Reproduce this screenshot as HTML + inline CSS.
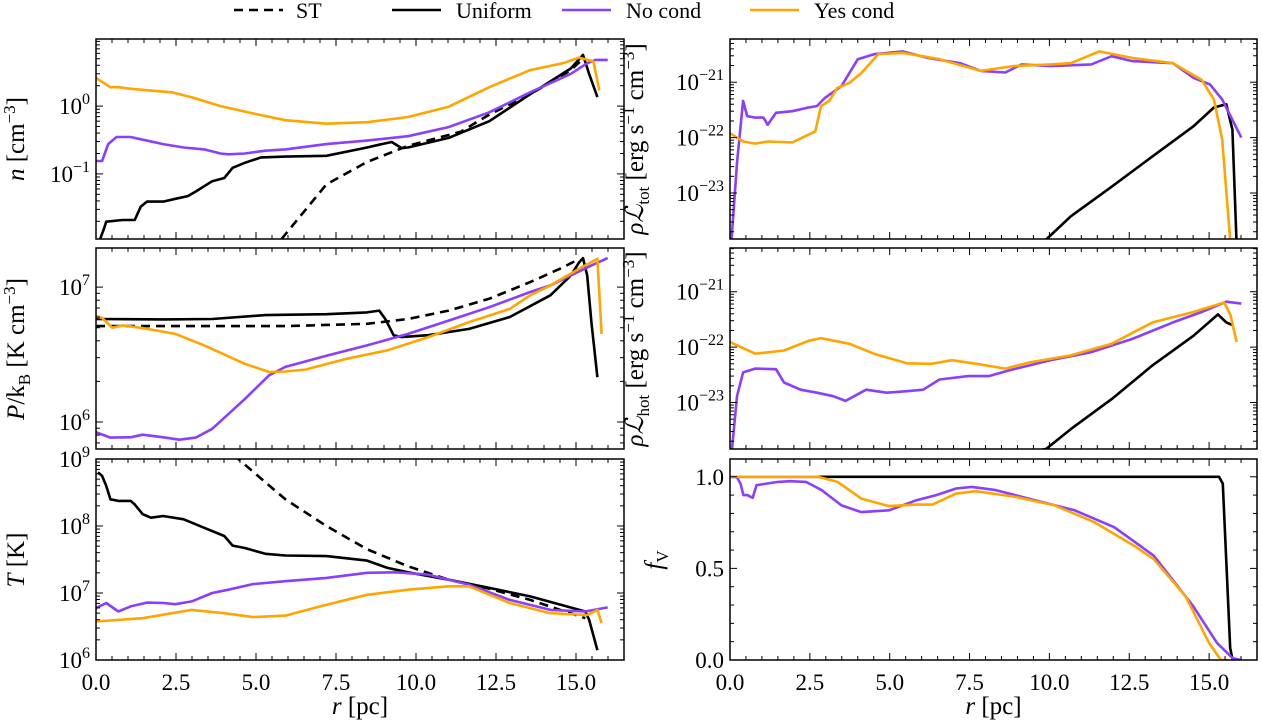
<!DOCTYPE html>
<html><head><meta charset="utf-8">
<style>
html,body{margin:0;padding:0;background:#fff;}
svg{display:block;font-family:"Liberation Serif","DejaVu Serif",serif;}
</style></head>
<body>
<svg id="fig" width="1262" height="722" viewBox="0 0 1262 722" xmlns="http://www.w3.org/2000/svg" font-family="Liberation Serif, DejaVu Serif, serif">
  <g font-size="22" font-family="Liberation Serif, DejaVu Serif, serif">
    <line x1="234" y1="10" x2="283" y2="10" stroke="#000" stroke-width="2.6" stroke-dasharray="9,6"/>
    <text x="296" y="18">ST</text>
    <line x1="392" y1="10" x2="441" y2="10" stroke="#000" stroke-width="2.6"/>
    <text x="456" y="18">Uniform</text>
    <line x1="562" y1="10" x2="611" y2="10" stroke="#8a3ffc" stroke-width="2.6"/>
    <text x="626" y="18">No cond</text>
    <line x1="750" y1="10" x2="799" y2="10" stroke="#ffa500" stroke-width="2.6"/>
    <text x="814" y="18">Yes cond</text>
  </g>
</svg>
<script>
// ---- data (r in pc) ----
const xTickLabels = ["0.0","2.5","5.0","7.5","10.0","12.5","15.0"];
const xTickValues = [0,2.5,5,7.5,10,12.5,15];

// n panel
const nST_r = [5.8,7.2,8.47,9.75,11.4,12.29,13.57,14.84,15.22];
const nST_v = [0.011,0.07,0.15,0.26,0.42,0.75,1.5,3.4,5.0];
const nUni_r = [0.13,0.25,0.32,0.83,1.21,1.4,1.59,2.1,2.48,2.87,3.12,3.63,4.01,4.27,4.65,5.16,5.92,7.2,8.47,8.85,9.24,9.55,9.75,11.02,12.29,13.57,14.84,15.22,15.41,15.67];
const nUni_v = [0.011,0.0156,0.0197,0.0209,0.0209,0.033,0.039,0.039,0.043,0.047,0.055,0.078,0.087,0.123,0.146,0.175,0.18,0.185,0.245,0.27,0.296,0.24,0.245,0.34,0.6,1.5,3.6,5.7,3.0,1.36];
const nNo_r = [0,0.19,0.38,0.64,1.08,1.46,2.1,2.74,3.38,3.89,4.14,4.65,5.29,5.92,7.2,8.47,9.75,11.02,12.29,13.57,14.84,15.35,15.61,15.99];
const nNo_v = [0.155,0.155,0.275,0.35,0.35,0.32,0.275,0.245,0.23,0.2,0.195,0.2,0.22,0.23,0.275,0.31,0.36,0.49,0.81,1.6,3.0,4.3,4.8,4.8];
const nYes_r = [0,0.45,0.7,1.08,2.36,2.99,3.89,4.9,5.92,7.2,8.47,9.75,11.02,12.29,13.57,14.59,15.1,15.54,15.73];
const nYes_v = [2.6,1.9,1.9,1.8,1.6,1.35,1.0,0.78,0.62,0.55,0.58,0.69,0.98,1.9,3.4,4.3,5.2,4.6,1.7];

// P panel
const pST_r = [0,5.92,8.47,9.75,11.02,12.29,13.57,14.59,15.1];
const pST_v = [5.14e6,5.14e6,5.35e6,5.8e6,6.7e6,8.2e6,1.09e7,1.4e7,1.62e7];
const pUni_r = [0,2.1,3.63,5.29,7.2,8.47,8.85,9.04,9.3,9.55,10.38,11.66,12.93,14.2,14.84,15.1,15.22,15.35,15.48,15.67];
const pUni_v = [5.8e6,5.76e6,5.8e6,6.2e6,6.3e6,6.5e6,6.7e6,5.8e6,4.4e6,4.26e6,4.4e6,4.9e6,6.0e6,8.7e6,1.22e7,1.53e7,1.64e7,1.22e7,5.5e6,2.15e6];
const pNo_r = [0,0.45,1.08,1.46,2.1,2.61,3.12,3.63,4.65,5.41,5.92,7.2,8.47,9.75,11.02,12.29,13.57,14.2,14.84,15.48,15.99];
const pNo_v = [8.4e5,7.66e5,7.7e5,8.05e5,7.7e5,7.4e5,7.66e5,8.9e5,1.48e6,2.22e6,2.56e6,3.1e6,3.7e6,4.5e6,5.65e6,7.1e6,9.2e6,1.03e7,1.22e7,1.45e7,1.64e7];
const pYes_r = [0,0.19,0.51,0.83,1.46,2.48,3.38,4.65,5.41,5.92,6.56,7.83,9.11,10.38,11.66,12.93,13.57,14.2,15.1,15.67,15.8];
const pYes_v = [6.1e6,5.9e6,5.0e6,5.2e6,4.97e6,4.5e6,3.7e6,2.7e6,2.35e6,2.37e6,2.45e6,2.94e6,3.4e6,4.26e6,5.5e6,6.9e6,8.7e6,1.03e7,1.37e7,1.62e7,4.5e6];

// T panel
const tST_r = [4.3,5.29,5.92,7.2,8.47,9.75,11.02,12.29,13.57,15.29];
const tST_v = [1.15e9,4.5e8,2.5e8,1e8,4.5e7,2.5e7,1.58e7,1.16e7,7.9e6,4.2e6];
const tUni_r = [0.06,0.19,0.32,0.45,0.7,1.08,1.21,1.46,1.72,2.1,2.74,3.38,4.01,4.27,4.65,5.29,5.92,7.2,8.47,9.11,9.75,11.02,12.29,13.57,15.29,15.41,15.67];
const tUni_v = [6.3e8,5.6e8,4.0e8,2.5e8,2.37e8,2.37e8,2.1e8,1.5e8,1.33e8,1.41e8,1.26e8,9.4e7,7.1e7,5.1e7,4.7e7,3.85e7,3.63e7,3.55e7,3.05e7,2.37e7,2.04e7,1.58e7,1.19e7,8.9e6,5.3e6,4.0e6,1.4e6];
const tNo_r = [0,0.32,0.7,1.08,1.59,2.1,2.48,2.99,3.63,4.14,4.9,5.92,7.2,8.47,9.36,10.38,11.66,12.93,14.2,15.29,15.99];
const tNo_v = [5.96e6,7.1e6,5.3e6,6.3e6,7.2e6,7.1e6,6.8e6,7.5e6,1e7,1.12e7,1.36e7,1.5e7,1.68e7,2e7,2.04e7,1.88e7,1.33e7,7.9e6,5.6e6,5.3e6,6.1e6];
const tYes_r = [0,1.46,2.99,4.01,4.9,5.92,7.2,8.47,9.75,11.02,11.66,12.93,14.2,15.35,15.67,15.8];
const tYes_v = [3.76e6,4.2e6,5.6e6,5e6,4.37e6,4.6e6,6.7e6,9.4e6,1.12e7,1.26e7,1.26e7,7.1e6,5e6,4.7e6,5.6e6,3.55e6];

// rho L_tot panel
const ltUni_r = [8.5,9.9,10.67,11.95,13.23,14.51,15.15,15.54,15.73,15.86];
const ltUni_v = [1.0e-24,1.45e-24,3.8e-24,1.3e-23,4.6e-23,1.6e-22,3.5e-22,4e-22,1.4e-22,1.2e-24];
const ltNo_r = [0.05,0.22,0.41,0.54,0.79,1.05,1.18,1.44,1.95,2.46,2.72,2.97,3.49,4.0,4.51,5.41,6.18,7.21,7.85,8.62,9.13,10.03,11.31,11.95,12.59,13.87,14.51,15.03,15.41,16.01];
const ltNo_v = [1.5e-24,3.5e-23,4.6e-22,2.45e-22,2.3e-22,2.3e-22,1.7e-22,2.8e-22,3.0e-22,3.5e-22,3.7e-22,5.2e-22,8.5e-22,2.6e-21,3.2e-21,3.6e-21,2.75e-21,2.2e-21,1.6e-21,1.5e-21,2.1e-21,1.95e-21,2.1e-21,2.95e-21,2.4e-21,2.2e-21,1.2e-21,9.1e-22,4.9e-22,1.0e-22];
const ltYes_r = [0,0.41,0.79,1.18,1.95,2.67,2.85,3.11,3.36,3.74,4.13,4.64,5.41,6.56,7.85,8.87,10.03,10.67,11.56,12.59,13.87,14.77,15.15,15.41,15.67];
const ltYes_v = [1.2e-22,8.5e-23,7.8e-23,8.5e-23,8.2e-23,1.3e-22,3.7e-22,4.6e-22,7.9e-22,9.7e-22,1.5e-21,3.2e-21,3.4e-21,2.6e-21,1.6e-21,1.95e-21,2.1e-21,2.2e-21,3.6e-21,2.75e-21,2.2e-21,1.1e-21,4.9e-22,9.2e-23,1.2e-24];

// rho L_hot panel
const lhUni_r = [8.5,9.9,10.67,11.95,13.23,14.51,15.28,15.54,15.73];
const lhUni_v = [1.0e-24,1.45e-24,3.3e-24,1.15e-23,4.7e-23,1.6e-22,3.9e-22,2.8e-22,2.5e-22];
const lhNo_r = [0.05,0.22,0.41,0.79,1.44,1.69,2.21,2.72,3.23,3.62,4.26,4.9,5.54,6.05,6.56,7.46,8.1,8.74,10.03,11.31,12.59,13.87,14.77,15.54,16.01];
const lhNo_v = [1.2e-24,1.3e-23,3.5e-23,4.1e-23,4e-23,2.3e-23,1.7e-23,1.5e-23,1.3e-23,1.07e-23,1.7e-23,1.5e-23,1.6e-23,1.7e-23,2.6e-23,3.0e-23,3.0e-23,3.8e-23,5.8e-23,8.1e-23,1.4e-22,2.8e-22,4.3e-22,6.6e-22,6.1e-22];
const lhYes_r = [0,0.79,1.69,2.46,2.85,3.74,4.51,5.54,6.31,6.95,7.72,8.62,9.38,10.67,11.95,13.23,14.51,15.47,15.67,15.86];
const lhYes_v = [1.23e-22,7.6e-23,8.7e-23,1.3e-22,1.45e-22,1.15e-22,7.6e-23,5.1e-23,5e-23,5.8e-23,5e-23,4.1e-23,5.3e-23,7.1e-23,1.15e-22,2.8e-22,4.3e-22,6.4e-22,3.8e-22,1.23e-22];

// f_V panel
const fUni_r = [0,15.31,15.43,15.66,15.74];
const fUni_v = [1.0,1.0,0.963,0.064,0.0];
const fNo_r = [0,0.21,0.33,0.42,0.54,0.71,0.83,1.14,1.51,1.88,2.38,2.87,3.49,4.11,4.98,5.84,6.46,7.08,7.57,8.32,9.55,10.79,12.03,13.27,14.5,15.25,15.74,15.99];
const fNo_v = [1.0,1.0,0.963,0.9,0.9,0.885,0.954,0.963,0.972,0.976,0.972,0.927,0.844,0.807,0.817,0.872,0.9,0.936,0.945,0.927,0.872,0.817,0.725,0.569,0.294,0.092,0.01,0.0];
const fYes_r = [0,2.75,3.37,4.11,4.98,5.84,6.34,7.08,7.7,8.94,10.17,11.41,12.65,13.27,14.26,15.0,15.37,15.62];
const fYes_v = [1,1,0.972,0.881,0.84,0.848,0.848,0.908,0.921,0.89,0.844,0.752,0.624,0.55,0.349,0.092,0.0,0.0];

// ---- drawing ----
const NS = "http://www.w3.org/2000/svg";
const svg = document.getElementById("fig");
const XMAX = 16.5;
const PURPLE = "#8a3ffc", ORANGE = "#ffa500";
function mk(tag, attrs, parent){ const e=document.createElementNS(NS,tag); for(const k in attrs) e.setAttribute(k,attrs[k]); (parent||svg).appendChild(e); return e; }

function makePanel(name, x0, x1, y0, y1, log, ymin, ymax){
  const g = mk("g",{});
  
  
  const sx = v => x0 + (v/XMAX)*(x1-x0);
  const sy = log ? (v => y1 - ((Math.log10(v)-ymin)/(ymax-ymin))*(y1-y0))
                 : (v => y1 - ((v-ymin)/(ymax-ymin))*(y1-y0));
  const cid = "clip-" + name;
  const cp = mk("clipPath",{id:cid},g);
  mk("rect",{x:x0,y:y0,width:x1-x0,height:y1-y0},cp);
  const dg = mk("g",{"clip-path":"url(#"+cid+")"},g);
  for(let i=0;i<=Math.floor(XMAX*2);i++){
    const v=i*0.5, major=(i%5===0), L=major?7:4, X=sx(v);
    mk("line",{x1:X,x2:X,y1:y1,y2:y1-L,stroke:"#000","stroke-width":1},g);
    mk("line",{x1:X,x2:X,y1:y0,y2:y0+L,stroke:"#000","stroke-width":1},g);
  }
  const yt=[];
  if(log){
    for(let d=Math.floor(ymin); d<=Math.ceil(ymax); d++){
      for(let m=1;m<=9;m++){ const lv=d+Math.log10(m); if(lv>=ymin-1e-9&&lv<=ymax+1e-9) yt.push({v:Math.pow(10,lv),major:m===1,exp:d}); }
    }
  } else {
    for(let i=0;i<=Math.round(ymax*10);i++){ const v=i/10; if(v<=ymax) yt.push({v:v,major:(i%5===0)}); }
  }
  yt.forEach(t=>{
    const Y=sy(t.v), L=t.major?7:4;
    mk("line",{x1:x0,x2:x0+L,y1:Y,y2:Y,stroke:"#000","stroke-width":1},g);
    mk("line",{x1:x1,x2:x1-L,y1:Y,y2:Y,stroke:"#000","stroke-width":1},g);
    if(t.major){
      const tx = mk("text",{x:x0-6,y:Y+8,"text-anchor":"end","font-size":23},g);
      
      
      if(log){
        const a=mk("tspan",{},tx); a.textContent="10";
        const b=mk("tspan",{dy:-10,"font-size":16},tx); b.textContent=String(t.exp).replace("-","\u2212");
      } else tx.textContent=t.v.toFixed(1);
    }
  });
  mk("rect",{x:x0,y:y0,width:x1-x0,height:y1-y0,fill:"none",stroke:"#000","stroke-width":1.5},g);
  return {g, dg, sx, sy, x0, x1, y0, y1};
}

function series(P, xs, ys, color, dash, name){
  let d="";
  for(let i=0;i<xs.length;i++){ d += (i?"L":"M") + P.sx(xs[i]).toFixed(1) + "," + P.sy(ys[i]).toFixed(1); }
  const p = mk("path",{d:d,fill:"none",stroke:color,"stroke-width":2.6,"stroke-linejoin":"round"},P.dg);
  if(dash) p.setAttribute("stroke-dasharray","9,6");
  
  
}

function xLabels(P){
  xTickValues.forEach((v,i)=>{
    const t = mk("text",{x:P.sx(v),y:P.y1+30,"text-anchor":"middle","font-size":23});
    t.textContent = xTickLabels[i];
    
    
  });
  const t = mk("text",{x:(P.x0+P.x1)/2,y:P.y1+54,"text-anchor":"middle","font-size":25});
  
  
  const a=mk("tspan",{"font-style":"italic"},t); a.textContent="r";
  const b=mk("tspan",{},t); b.textContent=" [pc]";
}

function yTitle(x, yc, parts, name){
  const t = mk("text",{x:0,y:0,"text-anchor":"middle","font-size":25,transform:"translate("+x+","+yc+") rotate(-90)"});
  
  
  parts.forEach(p=>{
    const s=mk("tspan",{},t);
    if(p.i) s.setAttribute("font-style","italic");
    if(p.dy) { s.setAttribute("dy",p.dy); s.setAttribute("font-size",17); }
    if(p.back) { s.setAttribute("dy",p.back); }
    s.textContent=p.t;
  });
}

const LX0=96, LX1=624, RX0=730, RX1=1257;
const R1=[39,239], R2=[248,449], R3=[459,660];

const Pn = makePanel("density", LX0,LX1,R1[0],R1[1], true, -1.96, 0.99);
series(Pn, nST_r, nST_v, "#000", true, "st-density-line");
series(Pn, nUni_r, nUni_v, "#000", false, "uniform-density-line");
series(Pn, nNo_r, nNo_v, PURPLE, false, "nocond-density-line");
series(Pn, nYes_r, nYes_v, ORANGE, false, "yescond-density-line");

const Pp = makePanel("pressure", LX0,LX1,R2[0],R2[1], true, 5.80, 7.29);
series(Pp, pST_r, pST_v, "#000", true, "st-pressure-line");
series(Pp, pUni_r, pUni_v, "#000", false, "uniform-pressure-line");
series(Pp, pNo_r, pNo_v, PURPLE, false, "nocond-pressure-line");
series(Pp, pYes_r, pYes_v, ORANGE, false, "yescond-pressure-line");

const Pt = makePanel("temperature", LX0,LX1,R3[0],R3[1], true, 6, 9);
series(Pt, tST_r, tST_v, "#000", true, "st-temperature-line");
series(Pt, tUni_r, tUni_v, "#000", false, "uniform-temperature-line");
series(Pt, tNo_r, tNo_v, PURPLE, false, "nocond-temperature-line");
series(Pt, tYes_r, tYes_v, ORANGE, false, "yescond-temperature-line");
xLabels(Pt);

const Plt = makePanel("ltot", RX0,RX1,R1[0],R1[1], true, -23.83, -20.22);
series(Plt, ltUni_r, ltUni_v, "#000", false, "uniform-ltot-line");
series(Plt, ltNo_r, ltNo_v, PURPLE, false, "nocond-ltot-line");
series(Plt, ltYes_r, ltYes_v, ORANGE, false, "yescond-ltot-line");

const Plh = makePanel("lhot", RX0,RX1,R2[0],R2[1], true, -23.84, -20.21);
series(Plh, lhUni_r, lhUni_v, "#000", false, "uniform-lhot-line");
series(Plh, lhNo_r, lhNo_v, PURPLE, false, "nocond-lhot-line");
series(Plh, lhYes_r, lhYes_v, ORANGE, false, "yescond-lhot-line");

const Pf = makePanel("volume-fraction", RX0,RX1,R3[0],R3[1], false, 0, 1.097);
series(Pf, fUni_r, fUni_v, "#000", false, "uniform-fv-line");
series(Pf, fNo_r, fNo_v, PURPLE, false, "nocond-fv-line");
series(Pf, fYes_r, fYes_v, ORANGE, false, "yescond-fv-line");
xLabels(Pf);

yTitle(24,139,[{t:"n",i:true},{t:" [cm"},{t:"\u22123",dy:-9},{t:"]",back:9}],"density-axis-title");
yTitle(24,349,[{t:"P",i:true},{t:"/k"},{t:"B",dy:6},{t:" [K cm",back:-6},{t:"\u22123",dy:-9},{t:"]",back:9}],"pressure-axis-title");
yTitle(24,560,[{t:"T",i:true},{t:" [K]"}],"temperature-axis-title");
yTitle(643,139,[{t:"\u03C1\u2112",i:true},{t:"tot",dy:6},{t:" [erg s",back:-6},{t:"\u22121",dy:-9},{t:" cm",back:9},{t:"\u22123",dy:-9},{t:"]",back:9}],"ltot-axis-title");
yTitle(643,349,[{t:"\u03C1\u2112",i:true},{t:"hot",dy:6},{t:" [erg s",back:-6},{t:"\u22121",dy:-9},{t:" cm",back:9},{t:"\u22123",dy:-9},{t:"]",back:9}],"lhot-axis-title");
yTitle(662,560,[{t:"f",i:true},{t:"V",dy:6}],"fv-axis-title");
</script>
</body></html>
